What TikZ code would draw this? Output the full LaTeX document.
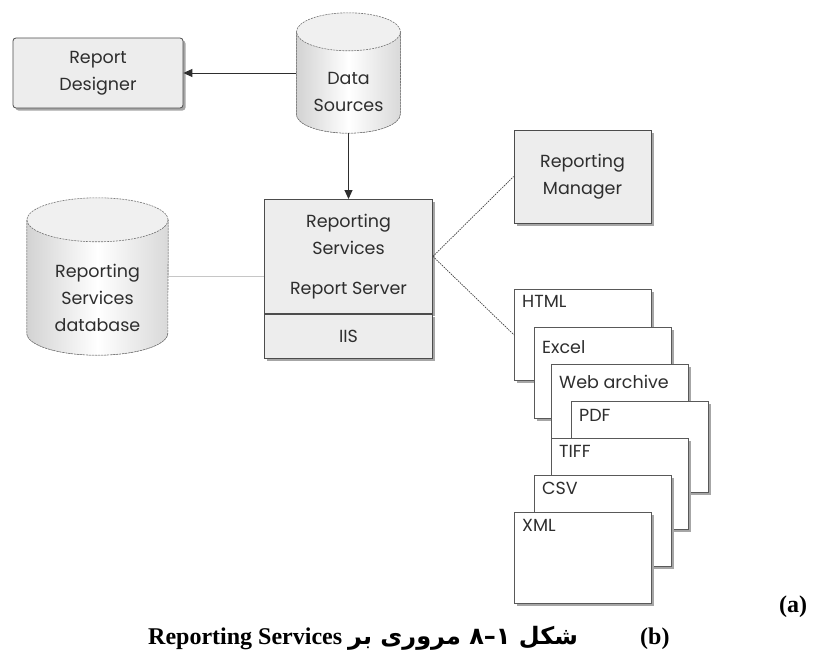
\documentclass[tikz,border=0pt]{standalone}
\usepackage{fontspec}
\usetikzlibrary{arrows.meta, positioning, calc, shadows}
\newfontfamily\diagfont{Poppins}
\newfontfamily\capfont{Liberation Serif}
\newfontfamily\arabicfont[Script=Arabic]{DejaVu Sans}
\TeXXeTstate=1
\definecolor{inkgray}{HTML}{2E2E2E}
\definecolor{boxfill}{HTML}{EDEDED}

\newcommand{\drumshape}[3]{%
  \fill[left color=gray!35, right color=gray!30, middle color=white]
    ($(#1.north west)+(0,#3)$) -- ($(#1.south west)-(0,#3)$)
    arc[start angle=180, end angle=0, x radius=#2, y radius=#3]
    -- ($(#1.north east)+(0,#3)$) -- cycle;
  \fill[gray!12] ($(#1.north)+(0,#3)$) ellipse[x radius=#2, y radius=#3];
  \draw[drumedge] ($(#1.north)+(0,#3)$) ellipse[x radius=#2, y radius=#3];
  \draw[drumedge] ($(#1.north west)+(0,#3)$) -- ($(#1.south west)-(0,#3)$)
    arc[start angle=180, end angle=0, x radius=#2, y radius=#3]
    -- ($(#1.north east)+(0,#3)$);
}

\begin{document}
\begin{tikzpicture}[
    x=1pt, y=-1pt,
    lbl/.style={font=\diagfont\fontsize{17.5}{27}\selectfont, text=inkgray, align=center},
    panel/.style={draw=black!70, fill=boxfill, line width=0.8pt,
        drop shadow={shadow xshift=2.5pt, shadow yshift=-2.5pt, fill=black!35, opacity=1}},
    docbox/.style={draw=black!65, fill=white, line width=0.8pt,
        minimum width=137pt, minimum height=91pt,
        drop shadow={shadow xshift=2.5pt, shadow yshift=-2.5pt, fill=black!35, opacity=1}},
    drumedge/.style={draw=black!55, dash pattern=on 2pt off 1pt, line width=0.6pt},
    link/.style={-{Triangle[length=9pt, width=8pt]}, line width=1pt, inkgray},
    dotlink/.style={black!75, line width=0.7pt, dash pattern=on 1.5pt off 1pt},
    capstyle/.style={anchor=base west, inner sep=0pt, font=\capfont\bfseries\fontsize{24}{28}\selectfont},
]
    \useasboundingbox[fill=white] (0,0) rectangle (816,653);

    \node[panel, lbl, rounded corners=3pt, minimum width=170pt, minimum height=70pt] (designer) at (98,73) {Report\\Designer};

    \node[minimum width=104pt, minimum height=120pt, inner sep=0pt] (data) at (348.5,73) {};
    \drumshape{data}{52}{19}
    \node[lbl] at ($(data.center)+(0,19)$) {Data\\Sources};

    \node[minimum width=141pt, minimum height=157pt, inner sep=0pt] (db) at (97.5,276.5) {};
    \drumshape{db}{70.5}{22}
    \node[lbl] at ($(db.center)+(0,21)$) {Reporting\\Services\\database};

    \node[panel, lbl, minimum width=168pt, minimum height=114pt, anchor=north] (server) at (348.5,199) {Reporting\\Services\\[13pt]Report Server};
    \node[panel, lbl, minimum width=168pt, minimum height=44pt, anchor=north] (iis) at (server.south) {IIS};

    \node[panel, lbl, minimum width=137pt, minimum height=93pt] (manager) at (582.5,176.5) {Reporting\\Manager};

    \foreach \n/\x/\y/\t/\d in {html/514/289/HTML/6, excel/534/327/Excel/13, webarch/551/364/Web archive/11,
        pdf/571/401/PDF/8, tiff/551/438/TIFF/7, csv/534/475/CSV/7, xml/514/512/XML/7} {
        \node[docbox, anchor=north west] (\n) at (\x,\y) {};
        \node[lbl, anchor=north west, inner sep=0pt] at ($(\n.north west)+(8,\d)$) {\t};
    }

    \draw[link] (data) -- (designer);
    \draw[link] (data.south) -- (server.north);
    \draw[gray!45, line width=0.8pt] (db.east) -- (db.east -| server.west);
    \draw[dotlink] (server.east) -- (manager.west);
    \draw[dotlink] (server.east) -- (html.west);

    \node[capstyle] (caption) at (148,644) {\beginR{\arabicfont\fontsize{24}{28}\selectfont شکل ۱\kern0pt–\kern0pt۸ مروری بر} \beginL Reporting Services\endL\endR};
    \node[capstyle] (partb) at (640,644) {(b)};
    \node[capstyle] (parta) at (779,612) {(a)};
\end{tikzpicture}
\end{document}
